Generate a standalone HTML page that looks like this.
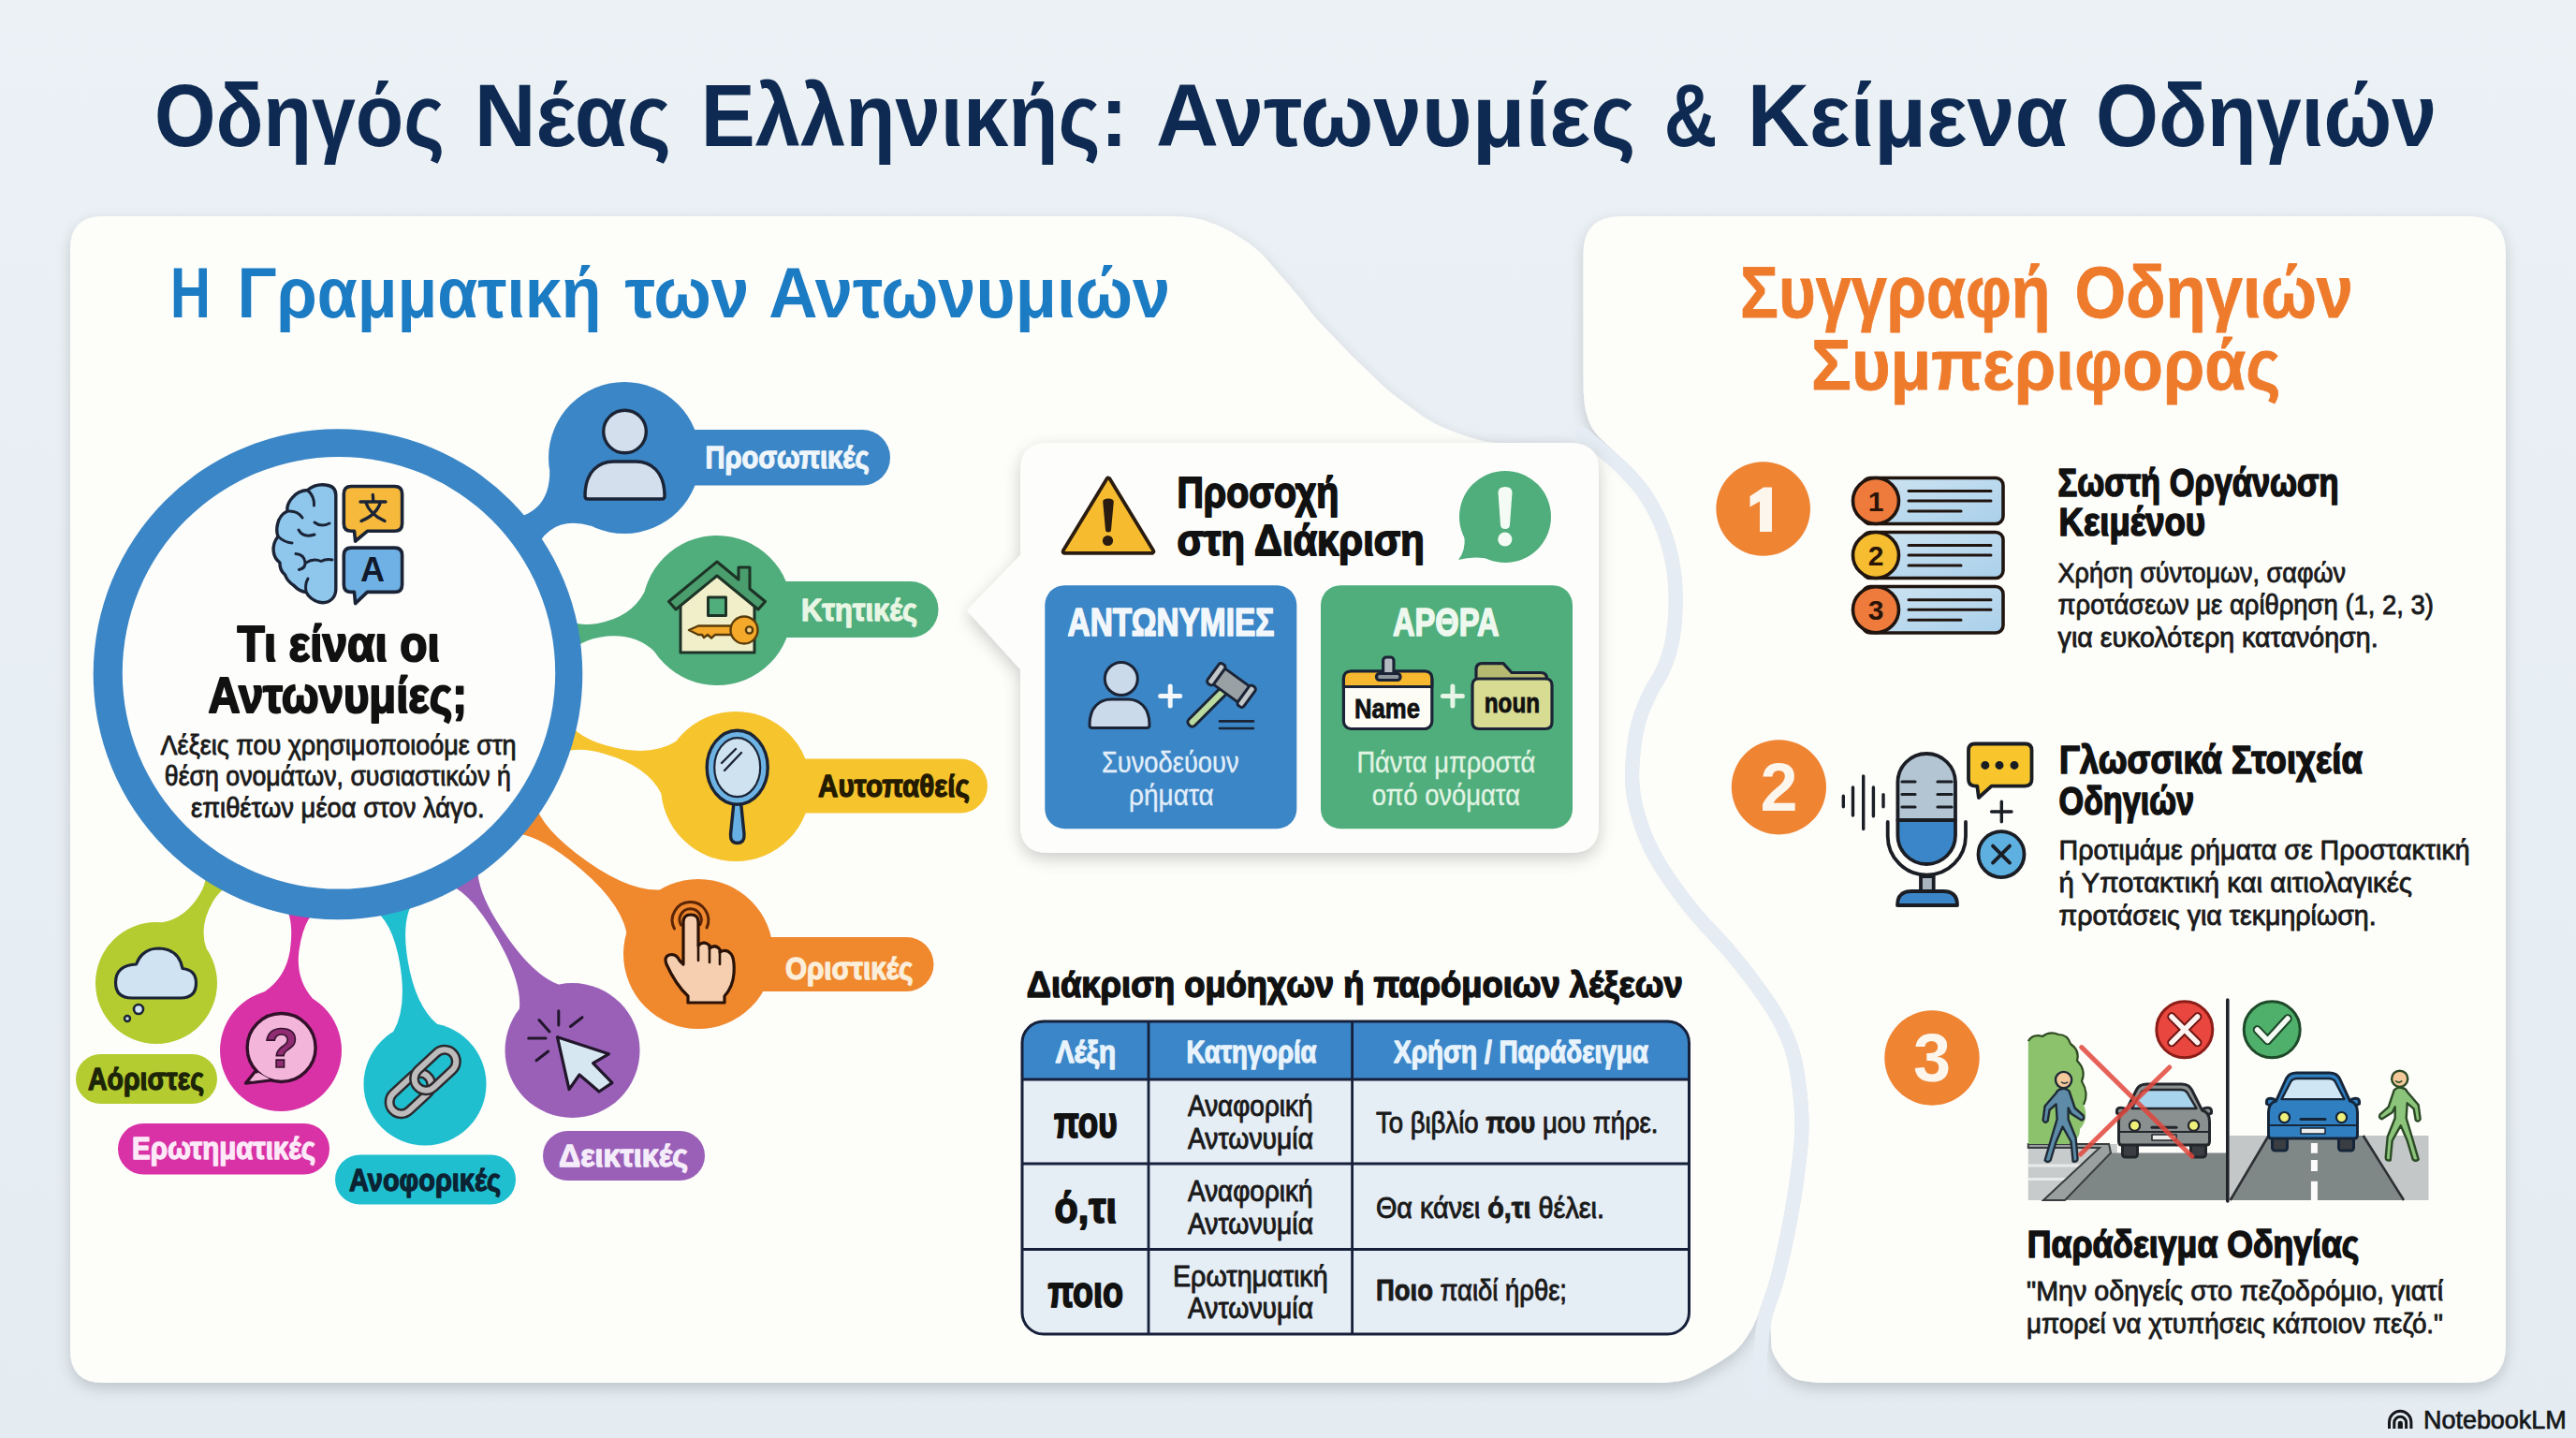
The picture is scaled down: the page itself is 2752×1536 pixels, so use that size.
<!DOCTYPE html>
<html><head><meta charset="utf-8"><title>Οδηγός Νέας Ελληνικής</title>
<style>
html,body{margin:0;padding:0;background:#e8eff4;}
body{width:2752px;height:1536px;overflow:hidden;font-family:"Liberation Sans",sans-serif;}
svg{display:block}
text{font-family:"Liberation Sans",sans-serif;}
.b{font-weight:bold}
</style></head><body>
<svg width="2752" height="1536" viewBox="0 0 2752 1536">
<defs>
<filter id="sh" x="-5%" y="-5%" width="110%" height="115%">
  <feGaussianBlur in="SourceAlpha" stdDeviation="8"/>
  <feOffset dx="0" dy="6" result="o"/>
  <feComponentTransfer><feFuncA type="linear" slope="0.17"/></feComponentTransfer>
  <feMerge><feMergeNode/><feMergeNode in="SourceGraphic"/></feMerge>
</filter>
<filter id="sh2" x="-10%" y="-10%" width="120%" height="125%">
  <feGaussianBlur in="SourceAlpha" stdDeviation="9"/>
  <feOffset dx="0" dy="6" result="o"/>
  <feComponentTransfer><feFuncA type="linear" slope="0.20"/></feComponentTransfer>
  <feMerge><feMergeNode/><feMergeNode in="SourceGraphic"/></feMerge>
</filter>
<linearGradient id="bg" x1="0" y1="0" x2="0" y2="1">
  <stop offset="0" stop-color="#ebf1f5"/><stop offset="1" stop-color="#e4ecf2"/>
</linearGradient>
<linearGradient id="rowg" x1="0" y1="0" x2="1" y2="1"><stop offset="0" stop-color="#cfe4f2"/><stop offset="1" stop-color="#a9d0ea"/></linearGradient>
</defs>
<rect width="2752" height="1536" fill="url(#bg)"/>
<g filter="url(#sh)"><path d="M110,231 L1230,231 C1236.5,231.2 1257.7,230.6 1269.0,232.0 C1280.3,233.4 1288.3,235.7 1298.0,239.5 C1307.7,243.3 1318.8,249.8 1327.0,255.0 C1335.2,260.2 1340.5,264.4 1347.0,270.6 C1353.5,276.8 1359.5,284.6 1366.0,292.0 C1372.5,299.4 1379.5,307.2 1386.0,315.0 C1392.5,322.8 1398.5,331.5 1405.0,339.0 C1411.5,346.5 1418.5,353.2 1425.0,360.0 C1431.5,366.8 1437.5,373.5 1444.0,380.0 C1450.5,386.5 1457.5,392.8 1464.0,399.0 C1470.5,405.2 1476.5,411.5 1483.0,417.0 C1489.5,422.5 1496.5,427.2 1503.0,432.0 C1509.5,436.8 1515.6,441.9 1522.0,446.0 C1528.4,450.1 1535.1,453.6 1541.6,456.6 C1548.1,459.6 1554.5,461.8 1561.0,464.0 C1567.5,466.2 1574.0,468.5 1580.5,470.0 C1587.0,471.5 1591.8,472.4 1600.0,473.0 C1608.2,473.6 1618.7,473.2 1630.0,473.5 C1641.3,473.8 1657.7,473.6 1668.0,474.5 C1678.3,475.4 1684.8,476.6 1692.0,479.0 C1699.2,481.4 1703.9,483.5 1711.0,489.0 C1718.1,494.5 1728.1,505.3 1734.6,512.2 C1741.0,519.0 1744.9,523.1 1749.8,530.3 C1754.8,537.4 1760.1,546.4 1764.2,555.2 C1768.4,564.0 1771.9,572.8 1774.8,583.0 C1777.7,593.3 1780.3,605.4 1781.5,616.8 C1782.8,628.3 1783.0,640.2 1782.5,651.7 C1782.0,663.1 1780.7,675.4 1778.7,685.5 C1776.6,695.5 1773.9,703.5 1770.1,712.0 C1766.4,720.6 1760.6,727.5 1756.2,736.8 C1751.8,746.1 1746.9,756.9 1743.8,768.0 C1740.7,779.0 1738.7,791.3 1737.5,803.2 C1736.3,815.2 1735.5,827.5 1736.5,839.6 C1737.6,851.8 1740.2,864.0 1743.8,876.2 C1747.4,888.3 1752.3,900.5 1758.3,912.4 C1764.3,924.2 1771.7,935.5 1779.8,947.3 C1788.0,959.0 1797.4,971.1 1807.3,982.8 C1817.2,994.6 1829.4,1006.3 1839.3,1017.9 C1849.3,1029.5 1858.4,1041.0 1867.0,1052.5 C1875.5,1064.0 1884.0,1075.6 1890.5,1086.8 C1897.0,1097.9 1902.1,1108.4 1905.9,1119.5 C1909.8,1130.5 1911.6,1138.9 1913.6,1153.0 C1915.5,1167.1 1917.7,1186.8 1917.5,1203.9 C1917.3,1221.1 1914.9,1238.4 1912.6,1256.0 C1910.3,1273.6 1907.1,1291.7 1903.6,1309.6 C1900.2,1327.4 1895.9,1347.6 1891.8,1363.1 C1887.6,1378.6 1882.8,1392.4 1878.9,1402.7 C1874.9,1413.0 1872.8,1417.8 1868.0,1425.0 C1863.2,1432.2 1860.2,1438.3 1850.0,1446.0 C1839.8,1453.7 1818.7,1465.8 1807.0,1471.0 C1795.3,1476.2 1784.5,1476.0 1780.0,1477.0 L110,1477 Q75,1477 75,1442 L75,266 Q75,231 110,231 Z" fill="#fdfdfa"/></g><g filter="url(#sh)"><path d="M1732,231 L2637,231 Q2677,231 2677,271 L2677,1437 Q2677,1477 2637,1477 L1942.0,1477.0 C1937.5,1476.0 1922.8,1476.0 1915.0,1471.0 C1907.2,1466.0 1898.8,1454.7 1895.0,1447.0 C1891.2,1439.3 1892.3,1431.6 1892.0,1425.0 C1891.7,1418.4 1890.8,1417.0 1893.1,1407.3 C1895.5,1397.6 1902.0,1382.7 1906.2,1366.9 C1910.5,1351.1 1914.8,1330.6 1918.4,1312.4 C1921.9,1294.3 1925.1,1276.0 1927.4,1258.0 C1929.8,1239.9 1932.3,1221.9 1932.5,1204.1 C1932.7,1186.2 1930.5,1165.9 1928.4,1151.0 C1926.4,1136.1 1924.2,1126.5 1920.1,1114.5 C1915.9,1102.6 1910.3,1091.1 1903.5,1079.2 C1896.6,1067.4 1887.8,1055.4 1879.0,1043.5 C1870.2,1031.7 1860.7,1019.8 1850.7,1008.1 C1840.6,996.4 1828.5,984.7 1818.7,973.2 C1809.0,961.6 1800.0,950.0 1792.2,938.7 C1784.3,927.5 1777.4,916.8 1771.7,905.6 C1766.0,894.5 1761.6,883.1 1758.2,871.8 C1754.8,860.6 1752.4,849.5 1751.5,838.4 C1750.5,827.2 1751.3,815.8 1752.5,804.8 C1753.6,793.7 1755.3,782.3 1758.2,772.0 C1761.1,761.8 1765.5,752.2 1769.8,743.2 C1774.1,734.2 1780.0,727.1 1783.9,718.0 C1787.8,708.9 1791.1,699.5 1793.3,688.5 C1795.6,677.6 1797.0,664.5 1797.5,652.3 C1798.0,640.1 1797.8,627.4 1796.5,615.2 C1795.1,602.9 1792.3,590.0 1789.2,579.0 C1786.1,567.9 1782.3,558.3 1777.8,548.8 C1773.3,539.3 1767.6,529.6 1762.2,521.7 C1756.8,513.9 1751.4,508.2 1745.4,501.8 C1739.5,495.5 1733.1,490.4 1726.2,483.6 C1719.3,476.9 1709.2,468.3 1704.0,461.5 C1698.8,454.7 1697.2,449.5 1695.2,442.8 C1693.2,436.1 1692.6,432.0 1692.0,421.5 C1691.4,411.1 1691.6,386.8 1691.5,379.9 L1691.5,271 Q1691.5,231 1732,231 Z" fill="#fdfdfa"/></g><path d="M1690,463 C1692.3,465.0 1698.8,470.7 1704.0,475.0 C1709.2,479.3 1715.0,483.7 1721.0,489.0 C1727.0,494.3 1734.2,500.8 1740.0,507.0 C1745.8,513.2 1750.8,518.5 1756.0,526.0 C1761.2,533.5 1766.7,542.8 1771.0,552.0 C1775.3,561.2 1779.0,570.3 1782.0,581.0 C1785.0,591.7 1787.7,604.2 1789.0,616.0 C1790.3,627.8 1790.5,640.2 1790.0,652.0 C1789.5,663.8 1788.2,676.5 1786.0,687.0 C1783.8,697.5 1780.8,706.2 1777.0,715.0 C1773.2,723.8 1767.3,730.8 1763.0,740.0 C1758.7,749.2 1754.0,759.3 1751.0,770.0 C1748.0,780.7 1746.2,792.5 1745.0,804.0 C1743.8,815.5 1743.0,827.3 1744.0,839.0 C1745.0,850.7 1747.5,862.3 1751.0,874.0 C1754.5,885.7 1759.2,897.5 1765.0,909.0 C1770.8,920.5 1778.0,931.5 1786.0,943.0 C1794.0,954.5 1803.2,966.3 1813.0,978.0 C1822.8,989.7 1835.0,1001.3 1845.0,1013.0 C1855.0,1024.7 1864.3,1036.3 1873.0,1048.0 C1881.7,1059.7 1890.3,1071.5 1897.0,1083.0 C1903.7,1094.5 1909.0,1105.5 1913.0,1117.0 C1917.0,1128.5 1919.0,1137.5 1921.0,1152.0 C1923.0,1166.5 1925.2,1186.5 1925.0,1204.0 C1924.8,1221.5 1922.3,1239.2 1920.0,1257.0 C1917.7,1274.8 1914.5,1293.0 1911.0,1311.0 C1907.5,1329.0 1903.2,1349.3 1899.0,1365.0 C1894.8,1380.7 1888.8,1393.8 1886.0,1405.0 C1883.2,1416.2 1883.0,1422.5 1882.0,1432.0 C1881.0,1441.5 1880.3,1452.3 1880.0,1462.0 C1879.7,1471.7 1880.0,1485.3 1880.0,1490.0" fill="none" stroke="#e5ecf3" stroke-width="15" stroke-linecap="round"/>
<text x="165.0" y="155.5" font-size="94.03" fill="#0f2a52" font-weight="bold" textLength="310.0" lengthAdjust="spacingAndGlyphs" >Οδηγός</text><text x="506.8" y="155.5" font-size="94.03" fill="#0f2a52" font-weight="bold" textLength="210.2" lengthAdjust="spacingAndGlyphs" >Νέας</text><text x="748.8" y="155.5" font-size="94.03" fill="#0f2a52" font-weight="bold" textLength="455.8" lengthAdjust="spacingAndGlyphs" >Ελληνικής:</text><text x="1235.0" y="155.5" font-size="94.03" fill="#0f2a52" font-weight="bold" textLength="512.6" lengthAdjust="spacingAndGlyphs" >Αντωνυμίες</text><text x="1777.7" y="155.5" font-size="94.03" fill="#0f2a52" font-weight="bold" textLength="56.7" lengthAdjust="spacingAndGlyphs" >&amp;</text><text x="1866.7" y="155.5" font-size="94.03" fill="#0f2a52" font-weight="bold" textLength="342.3" lengthAdjust="spacingAndGlyphs" >Κείμενα</text><text x="2239.0" y="155.5" font-size="94.03" fill="#0f2a52" font-weight="bold" textLength="364.0" lengthAdjust="spacingAndGlyphs" >Οδηγιών</text><text x="181.7" y="339.0" font-size="76.81" fill="#1b7bc3" font-weight="bold" textLength="43.3" lengthAdjust="spacingAndGlyphs" >Η</text><text x="253.5" y="339.0" font-size="76.81" fill="#1b7bc3" font-weight="bold" textLength="389.0" lengthAdjust="spacingAndGlyphs" >Γραμματική</text><text x="667.6" y="339.0" font-size="76.81" fill="#1b7bc3" font-weight="bold" textLength="132.8" lengthAdjust="spacingAndGlyphs" >των</text><text x="821.3" y="339.0" font-size="76.81" fill="#1b7bc3" font-weight="bold" textLength="429.0" lengthAdjust="spacingAndGlyphs" >Αντωνυμιών</text><text x="1859.0" y="339.4" font-size="77.12" fill="#ee7b2c" font-weight="bold" textLength="331.5" lengthAdjust="spacingAndGlyphs" stroke="#ee7b2c" stroke-width="0.80" stroke-linejoin="round" >Συγγραφή</text><text x="2216.4" y="339.4" font-size="77.12" fill="#ee7b2c" font-weight="bold" textLength="297.6" lengthAdjust="spacingAndGlyphs" stroke="#ee7b2c" stroke-width="0.80" stroke-linejoin="round" >Οδηγιών</text><text x="1935.0" y="416.4" font-size="76.07" fill="#ee7b2c" font-weight="bold" textLength="501.5" lengthAdjust="spacingAndGlyphs" stroke="#ee7b2c" stroke-width="0.80" stroke-linejoin="round" >Συμπεριφοράς</text>
<path d="M575.5,600.7 Q568.2,581.2 587.2,566.9 Q604.2,554.0 631.3,561.7 L667.0,489.0 L587.3,503.5 Q587.3,531.7 570.3,544.5 Q551.4,558.8 534.7,546.4 Z" fill="#3b86c6"/><path d="M605.4,708.4 Q610.5,685.8 640.8,680.7 Q676.3,674.7 699.0,695.7 L766.0,652.0 L688.4,632.6 Q673.8,659.9 638.3,665.9 Q608.1,671.0 595.9,651.2 Z" fill="#4fae7c"/><path d="M587.4,813.1 Q605.1,793.7 645.0,804.9 Q691.8,818.1 706.3,847.5 L786.0,840.0 L722.0,792.0 Q694.3,809.5 647.5,796.3 Q607.6,785.0 602.5,759.2 Z" fill="#f6c42d"/><path d="M536.1,891.5 Q563.1,883.4 608.4,918.6 Q661.6,959.8 669.4,996.0 L746.0,1019.0 L704.7,950.5 Q667.7,951.9 614.6,910.7 Q569.2,875.5 570.3,847.2 Z" fill="#f0882e"/><path d="M211.7,914.8 Q226.9,932.4 213.7,954.8 Q198.3,981.0 173.4,985.3 L167.0,1050.0 L220.4,1013.0 Q212.1,989.1 227.5,962.9 Q240.7,940.5 263.4,945.3 Z" fill="#b4cc2f"/><path d="M294.4,957.5 Q315.9,970.9 310.0,1013.9 Q305.9,1043.6 282.4,1059.4 L300.0,1122.0 L333.9,1066.5 Q315.4,1044.9 319.5,1015.2 Q325.4,972.2 349.6,966.5 Z" fill="#d832a6"/><path d="M391.8,968.9 Q417.8,975.9 427.0,1028.5 Q435.2,1075.8 420.3,1101.8 L454.0,1158.0 L466.8,1093.8 Q444.0,1074.3 435.8,1027.0 Q426.7,974.4 448.2,955.1 Z" fill="#20bfd0"/><path d="M466.1,941.7 Q494.4,942.6 523.6,989.5 Q557.9,1044.5 554.9,1077.5 L611.5,1122.0 L596.5,1051.6 Q565.5,1039.7 531.2,984.8 Q502.0,937.8 513.5,911.9 Z" fill="#9a60b8"/><circle cx="667" cy="489" r="81" fill="#3b86c6"/><circle cx="766" cy="652" r="80" fill="#4fae7c"/><circle cx="786" cy="840" r="80" fill="#f6c42d"/><circle cx="746" cy="1019" r="80" fill="#f0882e"/><circle cx="167" cy="1050" r="65" fill="#b4cc2f"/><circle cx="300" cy="1122" r="65" fill="#d832a6"/><circle cx="454" cy="1158" r="65.5" fill="#20bfd0"/><circle cx="611.5" cy="1122" r="72" fill="#9a60b8"/><rect x="690" y="459" width="261" height="59.5" rx="29.75" fill="#3b86c6"/><rect x="790" y="621" width="212.5" height="60" rx="30.0" fill="#4fae7c"/><rect x="800" y="810.5" width="255" height="58.0" rx="29.0" fill="#f6c42d"/><rect x="760" y="1001" width="237.5" height="58" rx="29.0" fill="#f0882e"/><rect x="81" y="1126" width="151" height="53" rx="26.5" fill="#b4cc2f"/><rect x="126" y="1200" width="226" height="54.5" rx="27.25" fill="#d832a6"/><rect x="358" y="1233.5" width="193" height="53.0" rx="26.5" fill="#20bfd0"/><rect x="580" y="1208" width="173" height="53" rx="26.5" fill="#9a60b8"/><ellipse cx="361" cy="720.2" rx="261.3" ry="262" fill="#3b86c6"/><ellipse cx="362" cy="718.8" rx="231.2" ry="230.8" fill="#fdfdfb"/><g stroke="#1b2436" stroke-width="3.4" stroke-linejoin="round" stroke-linecap="round" ><circle cx="667.5" cy="461" r="22.8" fill="#d3dfec"/><path d="M625,530 C625,503.0 640.3,493 655.6,493 H679.4 C694.7,493 710,503.0 710,530 Q710,533 707,533 H628 Q625,533 625,530 Z" fill="#d3dfec"/></g><g stroke="#1d3326" stroke-width="3" stroke-linejoin="round" stroke-linecap="round" ><path d="M727,646 L766,613 L806,646 V697 H727 Z" fill="#f0efc9"/><path d="M714.5,642.5 L766,600 L789,619 V606 H801 V629 L817.5,642.5 L810,651 L766,615 L722,651 Z" fill="#4a9d6c"/><rect x="756.5" y="638" width="19" height="19.5" fill="#4fae7c"/></g><g stroke="#5a3c0b" stroke-width="2.4" stroke-linejoin="round" stroke-linecap="round" ><path d="M783,668.5 H746 L736,673 L746,678 H750 L752,681 L756,678 L760,681.5 L764,678 H783 Z" fill="#f5a92b"/><circle cx="795" cy="673" r="14.5" fill="#f5a92b"/><circle cx="800.5" cy="673" r="3.6" fill="#f7d58c"/></g><g stroke="#1b2436" stroke-width="3.4" stroke-linejoin="round" stroke-linecap="round" ><path d="M784,857 L780.5,891 Q780,900.5 787.7,900.5 Q795.5,900.5 795,891 L791.5,857 Z" fill="#67b0e4"/><ellipse cx="787.7" cy="819.7" rx="32.5" ry="39.5" fill="#6db3e3"/><ellipse cx="787.7" cy="819.7" rx="24.5" ry="31.5" fill="#cfe2ef" stroke-width="2.2"/><path d="M771,815 L786,800 M774,823 L792,804" fill="none" stroke-width="2.4"/></g><g stroke="#1b2436" stroke-width="3.2" stroke-linejoin="round" stroke-linecap="round" ><path d="M720.5,992 A19.3,19.3 0 1 1 755,991" fill="none" stroke="#5a2406" stroke-width="3"/><path d="M727.5,988 A11.6,11.6 0 1 1 748,987.5" fill="none" stroke="#5a2406" stroke-width="3"/><path d="M730,1030 V985 Q730,977 738,977 Q746,977 746,985 V1010 Q752,1004 758,1010 V1013 Q764,1008 769,1014 V1017 Q776,1013 781,1019 Q785,1024 784,1040 Q783,1054 774,1064 V1071 H735 V1064 Q722,1052 712,1030 Q709,1022 715,1020 Q722,1018 726,1026 Z" fill="#f6cfb0" stroke="#2a1206" stroke-width="3.2"/><path d="M746,1010 V1026 M758,1013 V1028 M769,1017 V1030" fill="none" stroke="#2a1206" stroke-width="2.6"/></g><g stroke="#1b2436" stroke-width="3.2" stroke-linejoin="round" stroke-linecap="round" ><path d="M141,1066 H193 Q209.5,1066 209.5,1050 Q209.5,1036 195,1034.5 Q191,1013.5 169.5,1013 Q152,1013 145.5,1030 Q123.5,1031 123.5,1049.5 Q123.5,1066 141,1066 Z" fill="#cfe3f2"/><circle cx="148" cy="1078" r="5" fill="#cfe3f2" stroke-width="2.6"/><circle cx="136" cy="1088" r="3" fill="#cfe3f2" stroke-width="2.4"/></g><g stroke="#33102a" stroke-width="3.4" stroke-linejoin="round" stroke-linecap="round" ><path d="M273,1144 L262.5,1157 L291,1153.5 Z" fill="#f3b6da"/><circle cx="300.6" cy="1119" r="36.5" fill="#f3b6da"/><path d="M275.5,1145.5 L268,1155 L288,1152.5 Z" fill="#f3b6da" stroke="none"/></g><text x="300.6" y="1140" font-size="60" font-weight="bold" text-anchor="middle" fill="#8f2c72" stroke="#33102a" stroke-width="1.6">?</text><rect x="412.5" y="1155.5" width="52" height="25" rx="12.5" fill="none" stroke="#2a2a2e" stroke-width="11" transform="rotate(-43 438.5 1168)"/><rect x="412.5" y="1155.5" width="52" height="25" rx="12.5" fill="none" stroke="#bdbbbb" stroke-width="6" transform="rotate(-43 438.5 1168)"/><rect x="439" y="1130.5" width="52" height="25" rx="12.5" fill="none" stroke="#2a2a2e" stroke-width="11" transform="rotate(-43 465 1143)"/><rect x="439" y="1130.5" width="52" height="25" rx="12.5" fill="none" stroke="#bdbbbb" stroke-width="6" transform="rotate(-43 465 1143)"/><g stroke="#21162b" stroke-width="3.2" stroke-linejoin="round" stroke-linecap="round" ><path d="M595.4,1107.7 L650.4,1125.8 L633.6,1135.6 L654,1156.6 L640,1166 L619,1148 L608,1163.6 Z" fill="#d7e7f1"/><path d="M596.8,1079.7 V1095 M575.9,1089.5 L587,1102 M564.7,1109 H583 M573,1132.8 L585.7,1123 M609.4,1096.5 L622,1086.7" fill="none" stroke-width="3"/></g><g stroke="#1b2436" stroke-width="3.4" stroke-linejoin="round" stroke-linecap="round" ><path d="M358.8,529 Q358.8,519 348,518 Q337,516.5 328.5,523.5 Q318,524 311.5,532.5 Q306,539 307,546 Q298.5,550 296.5,560 Q294.8,567 297,573 Q291.2,580.5 292.2,589 Q293,596.5 299,601 Q298.5,609 304.5,614 Q307,621 314,625.5 Q319.5,631.5 327,632.5 Q331,640 340,643 Q350,645.5 355.5,639 Q358.8,635 358.8,629 Z" fill="#8ec6ec"/><path d="M328.5,523.5 Q336,530 335.5,540 M307,546 Q318,545 323,553 M336,558 Q343,563.5 352,559 M319,566 Q324,575 336,571 M297,573 Q304,579.5 312,580 M316,591.5 Q325,592 326,601 Q326.5,607 319.5,608.5 M327,601 Q335,596 343,599.5 Q349,596.5 355,598 M327,632.5 Q325.5,624 329,618" fill="none" stroke-width="3"/></g><g stroke="#1b2436" stroke-width="3.6" stroke-linejoin="round" stroke-linecap="round" ><path d="M375.3,519.5 H421.6 Q429.6,519.5 429.6,527.5 V559.3 Q429.6,567.3 421.6,567.3 H392.4 L379.6,578 L378.5,567.3 H375.3 Q367.3,567.3 367.3,559.3 V527.5 Q367.3,519.5 375.3,519.5 Z" fill="#f6b93b"/><path d="M375.3,585.1 H421.6 Q429.6,585.1 429.6,593.1 V624.4 Q429.6,632.4 421.6,632.4 H392.4 L379.6,644.6 L378.5,632.4 H375.3 Q367.3,632.4 367.3,624.4 V593.1 Q367.3,585.1 375.3,585.1 Z" fill="#6fb1e4"/></g><g stroke="#1b2436" stroke-width="3.3" stroke-linejoin="round" stroke-linecap="round" ><path d="M398.3,528.5 L398.8,535 M385,536 H412 M406.5,536 Q403,549.5 386,556.5 M390.5,536 Q395,549.5 411,556.5" fill="none"/></g><text x="398" y="620.7" font-size="36" font-weight="bold" text-anchor="middle" fill="#111a2c">A</text><text x="753.5" y="500.0" font-size="33.81" fill="#eef5fb" font-weight="bold" textLength="175.0" lengthAdjust="spacingAndGlyphs" stroke="#eef5fb" stroke-width="1.35" stroke-linejoin="round" >Προσωπικές</text><text x="856.0" y="663.0" font-size="33.81" fill="#e9f6e4" font-weight="bold" textLength="124.0" lengthAdjust="spacingAndGlyphs" stroke="#e9f6e4" stroke-width="1.35" stroke-linejoin="round" >Κτητικές</text><text x="874.0" y="850.5" font-size="33.81" fill="#231a00" font-weight="bold" textLength="162.0" lengthAdjust="spacingAndGlyphs" stroke="#231a00" stroke-width="1.35" stroke-linejoin="round" >Αυτοπαθείς</text><text x="839.0" y="1046.0" font-size="33.81" fill="#fbeeda" font-weight="bold" textLength="136.5" lengthAdjust="spacingAndGlyphs" stroke="#fbeeda" stroke-width="1.35" stroke-linejoin="round" >Οριστικές</text><text x="94.0" y="1163.5" font-size="33.81" fill="#1d2508" font-weight="bold" textLength="124.0" lengthAdjust="spacingAndGlyphs" stroke="#1d2508" stroke-width="1.35" stroke-linejoin="round" >Αόριστες</text><text x="141.0" y="1237.7" font-size="33.81" fill="#fde9f7" font-weight="bold" textLength="196.0" lengthAdjust="spacingAndGlyphs" stroke="#fde9f7" stroke-width="1.35" stroke-linejoin="round" >Ερωτηματικές</text><text x="373.0" y="1272.0" font-size="33.81" fill="#0b2333" font-weight="bold" textLength="162.0" lengthAdjust="spacingAndGlyphs" stroke="#0b2333" stroke-width="1.35" stroke-linejoin="round" >Ανοφορικές</text><text x="597.0" y="1246.0" font-size="33.81" fill="#f5ecfa" font-weight="bold" textLength="138.0" lengthAdjust="spacingAndGlyphs" stroke="#f5ecfa" stroke-width="1.35" stroke-linejoin="round" >Δεικτικές</text><text x="253.5" y="706.4" font-size="53.35" fill="#111" font-weight="bold" textLength="216.2" lengthAdjust="spacingAndGlyphs" stroke="#111" stroke-width="2.13" stroke-linejoin="round" >Τι είναι οι</text><text x="222.6" y="761.0" font-size="52.83" fill="#111" font-weight="bold" textLength="276.3" lengthAdjust="spacingAndGlyphs" stroke="#111" stroke-width="2.11" stroke-linejoin="round" >Αντωνυμίες;</text><text x="171.6" y="806.0" font-size="29.58" fill="#1a1a1a" textLength="380.0" lengthAdjust="spacingAndGlyphs" stroke="#1a1a1a" stroke-width="0.89" stroke-linejoin="round" >Λέξεις που χρησιμοποιοόμε στη</text><text x="175.8" y="838.5" font-size="29.58" fill="#1a1a1a" textLength="370.0" lengthAdjust="spacingAndGlyphs" stroke="#1a1a1a" stroke-width="0.89" stroke-linejoin="round" >θέση ονομάτων, συσιαστικών ή</text><text x="204.0" y="872.5" font-size="29.58" fill="#1a1a1a" textLength="313.6" lengthAdjust="spacingAndGlyphs" stroke="#1a1a1a" stroke-width="0.89" stroke-linejoin="round" >επιθέτων μέοα στον λάγο.</text>
<g filter="url(#sh2)"><path d="M1120,473 H1678 Q1708,473 1708,503 V881 Q1708,911 1678,911 H1120 Q1090,911 1090,881 V715 L1033,652 L1090,593 V503 Q1090,473 1120,473 Z" fill="#fdfdfb"/></g><path d="M1184,512.5 L1230.5,589 H1137.5 Z" fill="#f6bb2f" stroke="#2a1c10" stroke-width="7.5" stroke-linejoin="round"/><path d="M1184,512.5 L1230.5,589 H1137.5 Z" fill="#f6bb2f"/><path d="M1178.2,536 Q1178.2,532.5 1184,532.5 Q1189.8,532.5 1189.8,536 L1187,566 Q1186.8,568.5 1184,568.5 Q1181.2,568.5 1181,566 Z" fill="#2a1c10"/><circle cx="1183.5" cy="577.5" r="5.6" fill="#2a1c10"/><text x="1257.4" y="541.5" font-size="45.43" fill="#111" font-weight="bold" textLength="173.0" lengthAdjust="spacingAndGlyphs" stroke="#111" stroke-width="1.82" stroke-linejoin="round" >Προσοχή</text><text x="1257.4" y="593.3" font-size="45.43" fill="#111" font-weight="bold" textLength="264.3" lengthAdjust="spacingAndGlyphs" stroke="#111" stroke-width="1.82" stroke-linejoin="round" >στη Διάκριση</text><path d="M1558,598 Q1566,588 1564.5,573 L1592,597 Q1574,593.5 1558,598 Z" fill="#4fae7c"/><circle cx="1608" cy="552" r="49" fill="#4fae7c"/><path d="M1600.5,526 Q1600.5,520 1608,520 Q1615.5,520 1615.5,526 L1613,561 Q1612.6,565 1608,565 Q1603.4,565 1603,561 Z" fill="#f4fbf4"/><circle cx="1607.8" cy="576" r="7.6" fill="#f4fbf4"/><rect x="1116.3" y="625.2" width="269.0" height="260.0" rx="21" fill="#3b86c6" /><rect x="1411" y="625.2" width="269" height="260.0" rx="21" fill="#4fae7c" /><text x="1140.6" y="679.0" font-size="42.26" fill="#f2f7fc" font-weight="bold" textLength="220.7" lengthAdjust="spacingAndGlyphs" stroke="#f2f7fc" stroke-width="1.69" stroke-linejoin="round" >ΑΝΤΩΝΥΜΙΕΣ</text><text x="1488.0" y="679.0" font-size="42.26" fill="#eef8ee" font-weight="bold" textLength="113.5" lengthAdjust="spacingAndGlyphs" stroke="#eef8ee" stroke-width="1.69" stroke-linejoin="round" >ΑΡΘΡΑ</text><text x="1176.9" y="825.0" font-size="30.64" fill="#e3eefa" textLength="146.7" lengthAdjust="spacingAndGlyphs" stroke="#e3eefa" stroke-width="0.35" stroke-linejoin="round" >Συνοδεύουν</text><text x="1206.0" y="860.0" font-size="30.64" fill="#e3eefa" textLength="90.8" lengthAdjust="spacingAndGlyphs" stroke="#e3eefa" stroke-width="0.35" stroke-linejoin="round" >ρήματα</text><text x="1449.4" y="825.0" font-size="30.64" fill="#e2f4e4" textLength="191.0" lengthAdjust="spacingAndGlyphs" stroke="#e2f4e4" stroke-width="0.35" stroke-linejoin="round" >Πάντα μπροστά</text><text x="1465.7" y="860.0" font-size="30.64" fill="#e2f4e4" textLength="158.3" lengthAdjust="spacingAndGlyphs" stroke="#e2f4e4" stroke-width="0.35" stroke-linejoin="round" >οπό ονόματα</text><g stroke="#1b2436" stroke-width="3" stroke-linejoin="round" stroke-linecap="round" ><circle cx="1197.8" cy="725" r="17.5" fill="#cbdaea"/><path d="M1164,774.4 C1164,754.6 1175.52,747 1187.04,747 H1204.96 C1216.48,747 1228,754.6 1228,774.4 Q1228,777.4 1225,777.4 H1167 Q1164,777.4 1164,774.4 Z" fill="#cbdaea"/></g><path d="M1239.7,743.6 H1260.7 M1250.2,733.1 V754.1" stroke="#f4f8fc" stroke-width="5" stroke-linecap="round" fill="none"/><g stroke="#1b2436" stroke-width="3" stroke-linejoin="round" stroke-linecap="round" ><path d="M1270.5,768 L1304,734.5 L1310.5,741 L1277,774.5 Q1273.7,777.8 1270.5,774.5 Q1267.2,771.2 1270.5,768 Z" fill="#b9dba0"/><g transform="rotate(36 1315.5 732)"><rect x="1297" y="721.5" width="37" height="21" rx="3" fill="#9aa1a5"/><rect x="1291.5" y="719" width="8" height="26" rx="3" fill="#c2c7ca"/><rect x="1331.5" y="719" width="8" height="26" rx="3" fill="#c2c7ca"/></g><path d="M1303,770.4 H1339 M1303,778 H1339" fill="none" stroke-width="2.6"/></g><g stroke="#1b2436" stroke-width="3.2" stroke-linejoin="round" stroke-linecap="round" ><rect x="1435.4" y="717" width="94.4" height="61.5" rx="8" fill="#fdfdf6"/><path d="M1443.4,717 H1521.8 Q1529.8,717 1529.8,725 V733.5 H1435.4 V725 Q1435.4,717 1443.4,717 Z" fill="#f5b82e"/><rect x="1477.6" y="702" width="11.4" height="22" rx="3.5" fill="#b4bbc0"/><rect x="1470.5" y="719.5" width="25.5" height="7" rx="3.2" fill="#8d969b"/></g><text x="1482" y="766.9" font-size="30.4" font-weight="bold" text-anchor="middle" fill="#111" stroke="#111" stroke-width="0.8" textLength="70" lengthAdjust="spacingAndGlyphs">Name</text><path d="M1541.4,743.6 H1562.4 M1551.9,733.1 V754.1" stroke="#e7f5e7" stroke-width="5" stroke-linecap="round" fill="none"/><g stroke="#1b2436" stroke-width="3.2" stroke-linejoin="round" stroke-linecap="round" ><path d="M1577,730 V715 Q1577,708.6 1583.4,708.6 H1606 L1615,718.5 H1646 Q1652.5,718.5 1652.5,725 V732 Z" fill="#b6ba70"/><path d="M1580,725 H1651 Q1658,725 1658,732 V771.5 Q1658,778.5 1651,778.5 H1580 Q1573,778.5 1573,771.5 V732 Q1573,725 1580,725 Z" fill="#d8dc92"/></g><text x="1615.4" y="761" font-size="29" font-weight="bold" text-anchor="middle" fill="#111" stroke="#111" stroke-width="0.8" textLength="59.3" lengthAdjust="spacingAndGlyphs">noun</text>
<text x="1096.8" y="1064.6" font-size="39.09" fill="#111" font-weight="bold" textLength="700.8" lengthAdjust="spacingAndGlyphs" stroke="#111" stroke-width="1.56" stroke-linejoin="round" >Διάκριση ομόηχων ή παρόμοιων λέξεων</text><clipPath id="tc"><rect x="1092" y="1091" width="712.5" height="334" rx="23"/></clipPath><g clip-path="url(#tc)"><rect x="1092" y="1091" width="712.5" height="334" fill="#e5edf5"/><rect x="1092" y="1091" width="712.5" height="62" fill="#3a86c8"/><line x1="1227" y1="1091" x2="1227" y2="1425" stroke="#16203a" stroke-width="2.8"/><line x1="1444.6" y1="1091" x2="1444.6" y2="1425" stroke="#16203a" stroke-width="2.8"/><line x1="1092" y1="1153" x2="1804.5" y2="1153" stroke="#16203a" stroke-width="2.8"/><line x1="1092" y1="1243" x2="1804.5" y2="1243" stroke="#16203a" stroke-width="2.8"/><line x1="1092" y1="1334.5" x2="1804.5" y2="1334.5" stroke="#16203a" stroke-width="2.8"/></g><rect x="1092" y="1091" width="712.5" height="334" rx="23" fill="none" stroke="#16203a" stroke-width="3"/><text x="1127.7" y="1134.7" font-size="32.75" fill="#e8f3fc" font-weight="bold" textLength="64.3" lengthAdjust="spacingAndGlyphs" stroke="#e8f3fc" stroke-width="1.31" stroke-linejoin="round" >Λέξη</text><text x="1267.5" y="1134.7" font-size="32.75" fill="#e8f3fc" font-weight="bold" textLength="139.0" lengthAdjust="spacingAndGlyphs" stroke="#e8f3fc" stroke-width="1.31" stroke-linejoin="round" >Κατηγορία</text><text x="1489.0" y="1134.7" font-size="32.75" fill="#e8f3fc" font-weight="bold" textLength="272.0" lengthAdjust="spacingAndGlyphs" stroke="#e8f3fc" stroke-width="1.31" stroke-linejoin="round" >Χρήση / Παράδειγμα</text><text x="1126.0" y="1214.8" font-size="46.49" fill="#111" font-weight="bold" textLength="67.7" lengthAdjust="spacingAndGlyphs" stroke="#111" stroke-width="1.86" stroke-linejoin="round" >που</text><text x="1126.5" y="1305.5" font-size="46.49" fill="#111" font-weight="bold" textLength="66.5" lengthAdjust="spacingAndGlyphs" stroke="#111" stroke-width="1.86" stroke-linejoin="round" >ό,τι</text><text x="1119.5" y="1396.0" font-size="46.49" fill="#111" font-weight="bold" textLength="80.5" lengthAdjust="spacingAndGlyphs" stroke="#111" stroke-width="1.86" stroke-linejoin="round" >ποιο</text><text x="1269.0" y="1191.8" font-size="30.64" fill="#1a1a1a" textLength="133.5" lengthAdjust="spacingAndGlyphs" stroke="#1a1a1a" stroke-width="0.92" stroke-linejoin="round" >Αναφορική</text><text x="1269.0" y="1226.7" font-size="30.64" fill="#1a1a1a" textLength="134.0" lengthAdjust="spacingAndGlyphs" stroke="#1a1a1a" stroke-width="0.92" stroke-linejoin="round" >Αντωνυμία</text><text x="1269.0" y="1282.6" font-size="30.64" fill="#1a1a1a" textLength="133.5" lengthAdjust="spacingAndGlyphs" stroke="#1a1a1a" stroke-width="0.92" stroke-linejoin="round" >Αναφορική</text><text x="1269.0" y="1317.5" font-size="30.64" fill="#1a1a1a" textLength="134.0" lengthAdjust="spacingAndGlyphs" stroke="#1a1a1a" stroke-width="0.92" stroke-linejoin="round" >Αντωνυμία</text><text x="1253.0" y="1373.5" font-size="30.64" fill="#1a1a1a" textLength="165.6" lengthAdjust="spacingAndGlyphs" stroke="#1a1a1a" stroke-width="0.92" stroke-linejoin="round" >Ερωτηματική</text><text x="1269.0" y="1408.4" font-size="30.64" fill="#1a1a1a" textLength="134.0" lengthAdjust="spacingAndGlyphs" stroke="#1a1a1a" stroke-width="0.92" stroke-linejoin="round" >Αντωνυμία</text><text x="1470.0" y="1210.0" font-size="30.64" fill="#1a1a1a" textLength="301.5" lengthAdjust="spacingAndGlyphs" stroke="#1a1a1a" stroke-width="0.92" stroke-linejoin="round" >Το βιβλίο <tspan font-weight="bold">που</tspan> μου πήρε.</text><text x="1470.0" y="1301.0" font-size="30.64" fill="#1a1a1a" textLength="244.0" lengthAdjust="spacingAndGlyphs" stroke="#1a1a1a" stroke-width="0.92" stroke-linejoin="round" >Θα κάνει <tspan font-weight="bold">ό,τι</tspan> θέλει.</text><text x="1470.0" y="1389.0" font-size="30.64" fill="#1a1a1a" textLength="204.0" lengthAdjust="spacingAndGlyphs" stroke="#1a1a1a" stroke-width="0.92" stroke-linejoin="round" ><tspan font-weight="bold">Ποιο</tspan> παιδί ήρθε;</text>
<circle cx="1883.7" cy="543.5" r="50.3" fill="#ef8433"/><path d="M1893,520.5 V568 H1880 V535.5 L1869.5,541.5 V530 L1884,520.5 Z" fill="#fdf6ec"/><circle cx="1900.4" cy="840.8" r="50.6" fill="#ef8433"/><text x="1900.4" y="865.8" font-size="72" font-weight="bold" fill="#fdf6ec" text-anchor="middle">2</text><circle cx="2064" cy="1130" r="50.7" fill="#ef8433"/><text x="2064" y="1155" font-size="72" font-weight="bold" fill="#fdf6ec" text-anchor="middle">3</text><g stroke="#20140f" stroke-width="3.6" stroke-linejoin="round" stroke-linecap="round" ><rect x="1990" y="510.5" width="150" height="49.0" rx="8" fill="url(#rowg)"/><circle cx="2004" cy="535.0" r="24.5" fill="#ee7b3c"/><path d="M2039,524.5 H2127 M2039,535.0 H2127 M2039,546.0 H2095" fill="none" stroke-width="3"/></g><text x="2004" y="545.5" font-size="30" font-weight="bold" text-anchor="middle" fill="#2a1408">1</text><g stroke="#20140f" stroke-width="3.6" stroke-linejoin="round" stroke-linecap="round" ><rect x="1990" y="568.5" width="150" height="49.0" rx="8" fill="url(#rowg)"/><circle cx="2004" cy="593.0" r="24.5" fill="#f5bd2f"/><path d="M2039,582.5 H2127 M2039,593.0 H2127 M2039,604.0 H2095" fill="none" stroke-width="3"/></g><text x="2004" y="603.5" font-size="30" font-weight="bold" text-anchor="middle" fill="#2a1408">2</text><g stroke="#20140f" stroke-width="3.6" stroke-linejoin="round" stroke-linecap="round" ><rect x="1990" y="626.5" width="150" height="49.5" rx="8" fill="url(#rowg)"/><circle cx="2004" cy="651.25" r="24.5" fill="#ee7b3c"/><path d="M2039,640.75 H2127 M2039,651.25 H2127 M2039,662.25 H2095" fill="none" stroke-width="3"/></g><text x="2004" y="661.75" font-size="30" font-weight="bold" text-anchor="middle" fill="#2a1408">3</text><g stroke="#1a1d24" stroke-width="3.8" stroke-linejoin="round" stroke-linecap="round" ><path d="M1969.3,850.3 V861.8 M1979.5,841 V871 M1990.7,829 V885.5 M2001.4,841 V871.7 M2012,848.8 V861.8 " fill="none" stroke-width="3.4"/><clipPath id="micc"><rect x="2027.4" y="805" width="61.6" height="118" rx="30.8"/></clipPath><g clip-path="url(#micc)" stroke="none"><rect x="2020" y="800" width="80" height="76" fill="#b3c5d3"/><rect x="2020" y="876" width="80" height="60" fill="#3a86c8"/></g><rect x="2027.4" y="805" width="61.6" height="118" rx="30.8" fill="none"/><path d="M2027.4,876 H2089" fill="none"/><path d="M2032,835 H2046 M2032,848.5 H2046 M2032,862 H2046 M2070,835 H2085 M2070,848.5 H2085 M2070,862 H2085" fill="none" stroke-width="3.2"/><path d="M2016.7,878 V893 A41.6,41.6 0 0 0 2100,893 V878" fill="none"/><rect x="2052" y="936" width="13.7" height="16" fill="#a9b6bf"/><path d="M2027,967 Q2027,952 2042,952 H2076 Q2091,952 2091,967 Z" fill="#3a86c8"/><path d="M2110,794.5 H2163.5 Q2170.5,794.5 2170.5,801.5 V832.6 Q2170.5,839.6 2163.5,839.6 H2127.6 L2113.9,852 L2112.3,839.6 H2110 Q2103,839.6 2103,832.6 V801.5 Q2103,794.5 2110,794.5 Z" fill="#f8c62c"/><circle cx="2120.8" cy="817.4" r="2.6" fill="#20140f"/><circle cx="2136" cy="817.4" r="2.6" fill="#20140f"/><circle cx="2152" cy="817.4" r="2.6" fill="#20140f"/><path d="M2127.6,867 H2149 M2138.3,856.3 V877.7" fill="none" stroke-width="3.4"/><circle cx="2138" cy="912.6" r="24.5" fill="#5db0e0"/><path d="M2129,903.6 L2147,921.6 M2147,903.6 L2129,921.6" fill="none" stroke-width="3.8"/></g><rect x="2166.8" y="1222" width="95" height="60" fill="#c8cbcb" stroke="none"/><path d="M2166.8,1245 H2232 M2166.8,1259.5 H2215" stroke="#e9ebeb" stroke-width="3" fill="none"/><path d="M2246,1231.5 H2378 V1282 H2200 Z" fill="#7f8686" stroke="none"/><path d="M2166.8,1222 H2253 L2255,1231.5 L2206,1282 H2183 L2243,1226 H2166.8 Z" fill="#9a9f9f" stroke="#3a3d3f" stroke-width="2"/><path d="M2166.8,1222 V1112 Q2172,1104 2182,1107 Q2190,1101 2199,1105 Q2209,1105 2212,1115 Q2222,1122 2219,1133 Q2229,1143 2224,1155 Q2232,1168 2226,1180 Q2232,1195 2222,1206 Q2222,1218 2210,1222 Z" fill="#8cc26c" stroke="none"/><path d="M2166.8,1112 Q2172,1104 2182,1107 Q2190,1101 2199,1105 Q2209,1105 2212,1115 Q2222,1122 2219,1133 Q2229,1143 2224,1155 Q2232,1168 2226,1180" fill="none" stroke="#2f4a22" stroke-width="2.2"/><g stroke="#23262b" stroke-width="3" stroke-linejoin="round" stroke-linecap="round" ><rect x="2267.5" y="1219" width="16" height="17" rx="3" fill="#3a3d42"/><rect x="2340.5" y="1219" width="16" height="17" rx="3" fill="#3a3d42"/><path d="M2269.5,1183.95 Q2260.5,1180.95 2261.5,1188.95 Q2265.5,1191.95 2271.5,1189.95 Z" fill="#8a8f90"/><path d="M2354.5,1183.95 Q2363.5,1180.95 2362.5,1188.95 Q2358.5,1191.95 2352.5,1189.95 Z" fill="#8a8f90"/><path d="M2266.5,1223 Q2263.5,1223 2263.5,1219 V1197.95 Q2263.5,1187.95 2271.5,1185.95 L2282.5,1164 Q2285.5,1158 2293.5,1158 H2330.5 Q2338.5,1158 2341.5,1164 L2352.5,1185.95 Q2360.5,1187.95 2360.5,1197.95 V1219 Q2360.5,1223 2357.5,1223 Z" fill="#8a8f90"/><path d="M2277.5,1183.95 L2287.5,1167 Q2289.5,1164 2294.5,1164 H2329.5 Q2334.5,1164 2336.5,1167 L2346.5,1183.95 Z" fill="#a8d4ee" stroke-width="2.4"/><circle cx="2280.5" cy="1202.2" r="5.6" fill="#eef07a" stroke-width="2.2"/><circle cx="2343.5" cy="1202.2" r="5.6" fill="#eef07a" stroke-width="2.2"/><path d="M2299,1204.2 H2325" fill="none" stroke-width="3"/><path d="M2263.5,1209 H2360.5" fill="none" stroke-width="2"/><rect x="2299" y="1212" width="26" height="6" fill="#eceeee" stroke-width="1.6"/></g><g stroke="#1f2b36" stroke-width="2.4" stroke-linejoin="round" stroke-linecap="round" ><g transform="translate(2204.6,1153.5)"><circle cx="0" cy="0" r="8.6" fill="#f3c89a"/><path d="M-2,2.5 Q1,5 4,2.5" fill="none" stroke-width="1.6"/><path d="M-3,10 Q2,8 6,12 L12,30 L21,38 Q23,42 19,43 L8,36 L5,30 L5,42 L13,62 L15,84 Q15,88 10,87 L8,66 L-1,50 L-8,66 L-14,86 Q-17,89 -20,86 L-13,62 L-7,42 L-8,26 L-15,32 L-17,44 Q-20,47 -22,43 L-20,28 L-8,14 Q-6,10 -3,10 Z" fill="#5d8ba8"/></g></g><path d="M2223.8,1118.6 L2341.8,1235.3 M2317.7,1140 L2222.6,1233" stroke="#e2463c" stroke-width="5" stroke-linecap="round" fill="none" opacity="0.85"/><rect x="2381.5" y="1213" width="213" height="69" fill="#c4c7c7"/><path d="M2423.6,1213 H2524.7 L2568,1282 H2382.7 Z" fill="#808787"/><path d="M2423.6,1213 L2382.7,1282 M2524.7,1213 L2568,1282" stroke="#2d3033" stroke-width="2.6" fill="none"/><path d="M2472.4,1221 V1231.7 M2472.4,1239 V1251 M2472.4,1261.8 V1282" stroke="#fbfbfb" stroke-width="7" fill="none"/><g stroke="#16263a" stroke-width="3" stroke-linejoin="round" stroke-linecap="round" ><rect x="2427.5" y="1212" width="16" height="17" rx="3" fill="#3a3d42"/><rect x="2498.5" y="1212" width="16" height="17" rx="3" fill="#3a3d42"/><path d="M2429.5,1174.1 Q2420.5,1171.1 2421.5,1179.1 Q2425.5,1182.1 2431.5,1180.1 Z" fill="#2f7fc1"/><path d="M2512.5,1174.1 Q2521.5,1171.1 2520.5,1179.1 Q2516.5,1182.1 2510.5,1180.1 Z" fill="#2f7fc1"/><path d="M2426.5,1216 Q2423.5,1216 2423.5,1212 V1188.1 Q2423.5,1178.1 2431.5,1176.1 L2442.5,1152 Q2445.5,1146 2453.5,1146 H2488.5 Q2496.5,1146 2499.5,1152 L2510.5,1176.1 Q2518.5,1178.1 2518.5,1188.1 V1212 Q2518.5,1216 2515.5,1216 Z" fill="#2f7fc1"/><path d="M2437.5,1174.1 L2447.5,1155 Q2449.5,1152 2454.5,1152 H2487.5 Q2492.5,1152 2494.5,1155 L2504.5,1174.1 Z" fill="#cfe6f5" stroke-width="2.4"/><circle cx="2440.5" cy="1193.6" r="5.6" fill="#eef07a" stroke-width="2.2"/><circle cx="2501.5" cy="1193.6" r="5.6" fill="#eef07a" stroke-width="2.2"/><path d="M2458,1195.6 H2484" fill="none" stroke-width="3"/><path d="M2423.5,1202 H2518.5" fill="none" stroke-width="2"/><rect x="2458" y="1205" width="26" height="6" fill="#eceeee" stroke-width="1.6"/></g><g stroke="#2c4a26" stroke-width="2.4" stroke-linejoin="round" stroke-linecap="round" ><g transform="translate(2563.7,1152.3) scale(-1,1)"><circle cx="0" cy="0" r="8.6" fill="#f3c89a"/><path d="M-2,2.5 Q1,5 4,2.5" fill="none" stroke-width="1.6"/><path d="M-3,10 Q2,8 6,12 L12,30 L21,38 Q23,42 19,43 L8,36 L5,30 L5,42 L13,62 L15,84 Q15,88 10,87 L8,66 L-1,50 L-8,66 L-14,86 Q-17,89 -20,86 L-13,62 L-7,42 L-8,26 L-15,32 L-17,44 Q-20,47 -22,43 L-20,28 L-8,14 Q-6,10 -3,10 Z" fill="#8bc47a"/></g></g><path d="M2379.8,1068 V1283" stroke="#20242a" stroke-width="3.6" stroke-linecap="round"/><circle cx="2333.8" cy="1099.8" r="30" fill="#e8463e" stroke="#8c1d18" stroke-width="3"/><path d="M2320,1086 L2347.6,1113.6 M2347.6,1086 L2320,1113.6" stroke="#6d1512" stroke-width="9.5" stroke-linecap="round" fill="none"/><path d="M2320,1086 L2347.6,1113.6 M2347.6,1086 L2320,1113.6" stroke="#fdf3f0" stroke-width="5.5" stroke-linecap="round" fill="none"/><circle cx="2427.2" cy="1099.8" r="30" fill="#4fb06c" stroke="#1e4a2a" stroke-width="3"/><path d="M2411.5,1100 L2422.5,1111.5 L2444,1088" stroke="#1c4527" stroke-width="9.5" stroke-linecap="round" stroke-linejoin="round" fill="none"/><path d="M2411.5,1100 L2422.5,1111.5 L2444,1088" stroke="#f4fbf4" stroke-width="5.5" stroke-linecap="round" stroke-linejoin="round" fill="none"/><text x="2198.6" y="530.0" font-size="42.26" fill="#111" font-weight="bold" textLength="300.0" lengthAdjust="spacingAndGlyphs" stroke="#111" stroke-width="1.69" stroke-linejoin="round" >Σωστή Οργάνωση</text><text x="2199.6" y="572.2" font-size="42.26" fill="#111" font-weight="bold" textLength="156.4" lengthAdjust="spacingAndGlyphs" stroke="#111" stroke-width="1.69" stroke-linejoin="round" >Κειμένου</text><text x="2198.6" y="621.6" font-size="29.05" fill="#1a1a1a" textLength="307.4" lengthAdjust="spacingAndGlyphs" stroke="#1a1a1a" stroke-width="0.87" stroke-linejoin="round" >Χρήση σύντομων, σαφών</text><text x="2198.6" y="656.0" font-size="29.05" fill="#1a1a1a" textLength="401.4" lengthAdjust="spacingAndGlyphs" stroke="#1a1a1a" stroke-width="0.87" stroke-linejoin="round" >προτάσεων με αρίθρηση (1, 2, 3)</text><text x="2198.6" y="690.5" font-size="29.05" fill="#1a1a1a" textLength="342.0" lengthAdjust="spacingAndGlyphs" stroke="#1a1a1a" stroke-width="0.87" stroke-linejoin="round" >για ευκολότερη κατανόηση.</text><text x="2200.0" y="825.6" font-size="42.26" fill="#111" font-weight="bold" textLength="323.8" lengthAdjust="spacingAndGlyphs" stroke="#111" stroke-width="1.69" stroke-linejoin="round" >Γλωσσικά Στοιχεία</text><text x="2199.6" y="870.4" font-size="42.26" fill="#111" font-weight="bold" textLength="144.4" lengthAdjust="spacingAndGlyphs" stroke="#111" stroke-width="1.69" stroke-linejoin="round" >Οδηγιών</text><text x="2199.6" y="917.9" font-size="29.05" fill="#1a1a1a" textLength="439.0" lengthAdjust="spacingAndGlyphs" stroke="#1a1a1a" stroke-width="0.87" stroke-linejoin="round" >Προτιμάμε ρήματα σε Προστακτική</text><text x="2199.6" y="952.9" font-size="29.05" fill="#1a1a1a" textLength="377.4" lengthAdjust="spacingAndGlyphs" stroke="#1a1a1a" stroke-width="0.87" stroke-linejoin="round" >ή Υποτακτική και αιτιολαγικές</text><text x="2199.6" y="987.8" font-size="29.05" fill="#1a1a1a" textLength="339.0" lengthAdjust="spacingAndGlyphs" stroke="#1a1a1a" stroke-width="0.87" stroke-linejoin="round" >προτάσεις για τεκμηρίωση.</text><text x="2165.8" y="1342.8" font-size="40.68" fill="#111" font-weight="bold" textLength="354.6" lengthAdjust="spacingAndGlyphs" stroke="#111" stroke-width="1.63" stroke-linejoin="round" >Παράδειγμα Οδηγίας</text><text x="2165.0" y="1389.3" font-size="29.05" fill="#1a1a1a" textLength="445.0" lengthAdjust="spacingAndGlyphs" stroke="#1a1a1a" stroke-width="0.87" stroke-linejoin="round" >"Μην οδηγείς στο πεζοδρόμιο, γιατί</text><text x="2165.0" y="1424.3" font-size="29.05" fill="#1a1a1a" textLength="445.0" lengthAdjust="spacingAndGlyphs" stroke="#1a1a1a" stroke-width="0.87" stroke-linejoin="round" >μπορεί να χτυπήσεις κάποιον πεζό."</text>
<text x="2589.0" y="1525.6" font-size="26.94" fill="#15171a" textLength="152.7" lengthAdjust="spacingAndGlyphs" stroke="#15171a" stroke-width="0.7">NotebookLM</text><g fill="none" stroke="#15171a" stroke-width="3" stroke-linecap="butt"><path d="M2552.5,1526 v-7 a11.7,11.7 0 0 1 23.4,0 v7"/><path d="M2557.8,1526 v-6.4 a6.4,6.4 0 0 1 12.8,0 v6.4"/><path d="M2563,1526 v-5.6 a1.3,1.3 0 0 1 2.6,0 v5.6" stroke-width="2.6"/></g>
</svg>
</body></html>
